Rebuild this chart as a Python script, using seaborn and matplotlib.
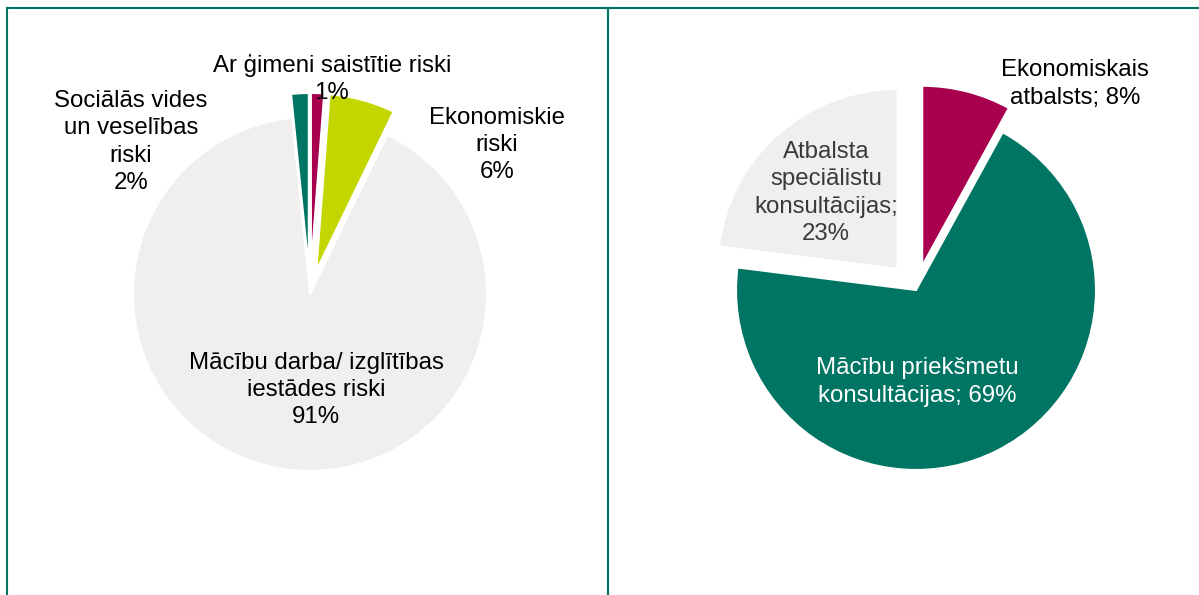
import matplotlib.pyplot as plt
import seaborn as sns
from matplotlib.patches import Rectangle

# Dati: kreisais grafiks (riski), pulksteņrādītāja virzienā no augšas
riski_nosaukumi = ["Ar ģimeni saistītie riski", "Ekonomiskie\nriski",
                   "Mācību darba/ izglītības\niestādes riski",
                   "Sociālās vides\nun veselības\nriski"]
riski_vertibas = [1.2, 6.0, 91.2, 1.6]

# Dati: labais grafiks (atbalsts)
atbalsts_nosaukumi = ["Ekonomiskais\natbalsts", "Mācību priekšmetu\nkonsultācijas",
                      "Atbalsta\nspeciālistu\nkonsultācijas"]
atbalsts_vertibas = [8, 69, 23]
atbalsts_atdalitaji = ["; ", "; ", ";\n"]

# Krāsas
zals = "#007563"
sarkans = "#A8004F"
laims = "#C4D600"
peleks = "#F0EEEF"

sns.set_style("white")
plt.rcParams['font.family'] = ['Liberation Sans', 'DejaVu Sans']

fig = plt.figure(figsize=(11.99, 5.95), dpi=100)
ax = fig.add_axes([0, 0, 1, 1])

# Kreisais pīrāgs (explode ir pikseļos, jo asis ir pikseļu mērogā)
ax.pie(riski_vertibas, colors=[sarkans, laims, peleks, zals],
       explode=[24, 24, 0, 24], startangle=90, counterclock=False,
       center=(310, 301), radius=177,
       wedgeprops=dict(edgecolor="white", linewidth=1.5))

# Labais pīrāgs
ax.pie(atbalsts_vertibas, colors=[sarkans, zals, peleks],
       explode=[25, 0, 28], startangle=90, counterclock=False,
       center=(916, 305), radius=180,
       wedgeprops=dict(edgecolor="white", linewidth=1.5))

ax.set_xlim(0, 1199)
ax.set_ylim(0, 595)
ax.set_aspect('auto')
ax.axis('off')

fs = 17.3
ls = 1.32
# Kreisā grafika uzraksti
riski_poz = [(332, 516), (497, 450), (316, 205), (131, 453)]
for nos, v, (x, y) in zip(riski_nosaukumi, riski_vertibas, riski_poz):
    ax.text(x, y, f"{nos}\n{v:.0f}%", ha='center', va='center',
            multialignment='center', fontsize=fs, color='black', linespacing=ls)

# Labā grafika uzraksti
atbalsts_poz = [(1075, 511), (917, 213), (826, 402)]
atbalsts_krasas = ['black', 'white', '#3A3A3A']
for nos, v, sep, (x, y), c in zip(atbalsts_nosaukumi, atbalsts_vertibas,
                                  atbalsts_atdalitaji, atbalsts_poz, atbalsts_krasas):
    ax.text(x, y, f"{nos}{sep}{v:.0f}%", ha='center', va='center',
            multialignment='center', fontsize=fs, color=c, linespacing=ls)

# Rāmji ap abiem paneļiem
ax.add_patch(Rectangle((6.5, -20), 601, 607, fill=False, edgecolor=zals,
                       linewidth=1.5, clip_on=False))
ax.add_patch(Rectangle((607.5, -20), 620, 607, fill=False, edgecolor=zals,
                       linewidth=1.5, clip_on=False))

fig.savefig("out.png", dpi=100, facecolor="white")
